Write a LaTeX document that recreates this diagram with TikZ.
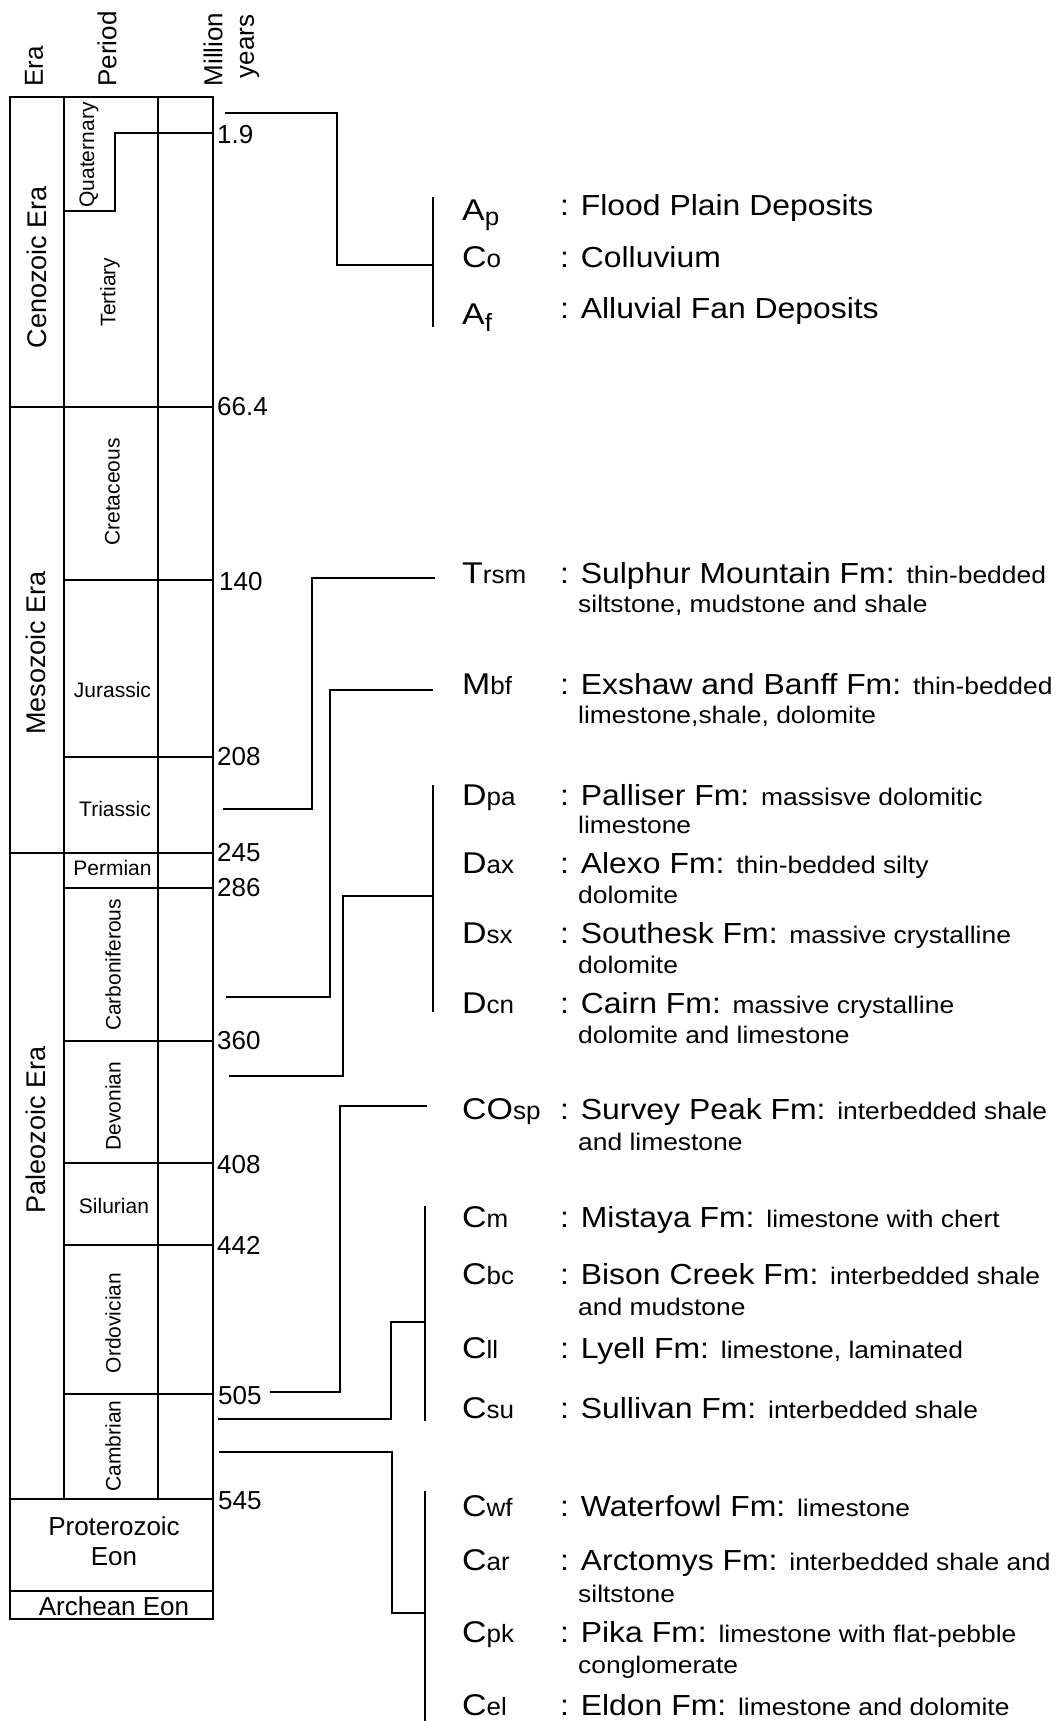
\documentclass[tikz,border=0pt]{standalone}
\usepackage{fontspec}
\setmainfont{Liberation Sans}
\newfontfamily\widef[FakeStretch=1.1]{Liberation Sans}
\newfontfamily\capf[FakeStretch=1.13]{Liberation Sans}
\newfontfamily\lowf[FakeStretch=1.04]{Liberation Sans}
\newcommand\setfs[1]{\fontsize{#1}{#1}\selectfont}
\newcommand\gsym[2]{{\capf\setfs{30}#1}{\lowf\setfs{25}#2}}
\newcommand\gsymlow[3]{{\capf\setfs{30}#1}\raisebox{-#3}{\lowf\setfs{25}#2}}
\newcommand\sm[1]{{\setfs{24}#1}}

\begin{document}
\begin{tikzpicture}[x=1pt,y=-1pt,
  tbl/.style={line width=1.8pt},
  brk/.style={line width=1.4pt},
  rot/.style={rotate=90,inner sep=0pt,font=\setfs{21}},
  eralab/.style={rotate=90,inner sep=0pt,font=\setfs{27}},
  hdr/.style={rotate=90,inner sep=0pt,font=\setfs{26}},
  plab/.style={inner sep=0pt,anchor=base,font=\setfs{21}},
  eonlab/.style={inner sep=0pt,anchor=base,font=\setfs{26}},
  age/.style={inner sep=0pt,anchor=west,font=\setfs{26}},
  symb/.style={inner sep=0pt,anchor=base west},
  desc/.style={inner sep=0pt,anchor=base west,font=\widef\setfs{29}},
  desctwo/.style={inner sep=0pt,anchor=base west,font=\widef\setfs{24}},
]
\useasboundingbox (0,0) rectangle (1055,1721);

% ---------- headers ----------
\node[hdr] (hEra) at (34,66.5) {Era};
\node[hdr] (hPeriod) at (107,49) {Period};
\node[hdr] (hMillion) at (213,49.5) {Million};
\node[hdr] (hYears) at (249.5,46.5) {years};

% ---------- table ----------
\draw[tbl] (10,97) rectangle (213,1499);
\draw[tbl] (64,97) -- (64,1499);
\draw[tbl] (158,97) -- (158,1499);
\draw[tbl] (213,133) -- (115,133) -- (115,211) -- (64,211);
\draw[tbl] (10,407) -- (213,407);
\draw[tbl] (64,580) -- (213,580);
\draw[tbl] (64,757) -- (213,757);
\draw[tbl] (10,853) -- (213,853);
\draw[tbl] (64,888) -- (213,888);
\draw[tbl] (64,1041) -- (213,1041);
\draw[tbl] (64,1163) -- (213,1163);
\draw[tbl] (64,1245) -- (213,1245);
\draw[tbl] (64,1394) -- (213,1394);
\draw[tbl] (10,1499) rectangle (213,1619);
\draw[tbl] (10,1591) -- (213,1591);

% ---------- era / period labels ----------
\node[eralab] (cenozoic) at (37,267) {Cenozoic Era};
\node[eralab] (mesozoic) at (36,653) {Mesozoic Era};
\node[eralab] (paleozoic) at (36,1130) {Paleozoic Era};

\node[rot] (quaternary) at (89,155) {Quaternary};
\node[rot] (tertiary) at (110,292) {Tertiary};
\node[rot] (cretaceous) at (112.5,492) {Cretaceous};
\node[plab] (jurassic) at (112.5,697) {Jurassic};
\node[plab] (triassic) at (115,816) {Triassic};
\node[plab] (permian) at (112.5,875) {Permian};
\node[rot] (carbon) at (113,965) {Carboniferous};
\node[rot] (devonian) at (113,1106) {Devonian};
\node[plab] (silurian) at (114,1213) {Silurian};
\node[rot] (ordovician) at (113,1323) {Ordovician};
\node[rot] (cambrian) at (113,1446) {Cambrian};

\node[eonlab] (prot1) at (114,1535) {Proterozoic};
\node[eonlab] (prot2) at (114,1565) {Eon};
\node[eonlab] (archean) at (114,1615) {Archean Eon};

% ---------- ages ----------
\node[age] (a19) at (217,135) {1.9};
\node[age] (a664) at (217,407) {66.4};
\node[age] (a140) at (219,582) {140};
\node[age] (a208) at (217,757) {208};
\node[age] (a245) at (217,853) {245};
\node[age] (a286) at (217,888) {286};
\node[age] (a360) at (217,1041) {360};
\node[age] (a408) at (217,1165) {408};
\node[age] (a442) at (217,1245) {442};
\node[age] (a505) at (218,1396) {505};
\node[age] (a545) at (218,1501) {545};

% ---------- legend entries ----------
\node[symb] (sAp) at (462,220) {\gsymlow{A}{p}{5pt}};
\node[desc] (dAp) at (560,215) {: Flood Plain Deposits};
\node[symb] (sCo) at (462,267) {\gsym{C}{o}};
\node[desc] (dCo) at (560,267) {: Colluvium};
\node[symb] (sAf) at (462,324) {\gsymlow{A}{f}{7pt}};
\node[desc] (dAf) at (560,318) {: Alluvial Fan Deposits};

\node[symb] (sTrsm) at (462,583) {\gsym{T}{rsm}};
\node[desc] (dTrsm) at (560,583) {: Sulphur Mountain Fm: \sm{thin-bedded}};
\node[desctwo] (dTrsmb) at (578,612) {siltstone, mudstone and shale};

\node[symb] (sMbf) at (462,694) {\gsym{M}{bf}};
\node[desc] (dMbf) at (560,694) {: Exshaw and Banff Fm: \sm{thin-bedded}};
\node[desctwo] (dMbfb) at (578,723) {limestone,shale, dolomite};

\node[symb] (sDpa) at (462,805) {\gsym{D}{pa}};
\node[desc] (dDpa) at (560,805) {: Palliser Fm: \sm{massisve dolomitic}};
\node[desctwo] (dDpab) at (578,833) {limestone};

\node[symb] (sDax) at (462,873) {\gsym{D}{ax}};
\node[desc] (dDax) at (560,873) {: Alexo Fm: \sm{thin-bedded silty}};
\node[desctwo] (dDaxb) at (578,903) {dolomite};

\node[symb] (sDsx) at (462,943) {\gsym{D}{sx}};
\node[desc] (dDsx) at (560,943) {: Southesk Fm: \sm{massive crystalline}};
\node[desctwo] (dDsxb) at (578,973) {dolomite};

\node[symb] (sDcn) at (462,1013) {\gsym{D}{cn}};
\node[desc] (dDcn) at (560,1013) {: Cairn Fm: \sm{massive crystalline}};
\node[desctwo] (dDcnb) at (578,1043) {dolomite and limestone};

\node[symb] (sCOsp) at (462,1119) {\gsym{CO}{sp}};
\node[desc] (dCOsp) at (560,1119) {: Survey Peak Fm: \sm{interbedded shale}};
\node[desctwo] (dCOspb) at (578,1150) {and limestone};

\node[symb] (sCm) at (462,1227) {\gsym{C}{m}};
\node[desc] (dCm) at (560,1227) {: Mistaya Fm: \sm{limestone with chert}};

\node[symb] (sCbc) at (462,1284) {\gsym{C}{bc}};
\node[desc] (dCbc) at (560,1284) {: Bison Creek Fm: \sm{interbedded shale}};
\node[desctwo] (dCbcb) at (578,1315) {and mudstone};

\node[symb] (sCll) at (462,1358) {\gsym{C}{ll}};
\node[desc] (dCll) at (560,1358) {: Lyell Fm: \sm{limestone, laminated}};

\node[symb] (sCsu) at (462,1418) {\gsym{C}{su}};
\node[desc] (dCsu) at (560,1418) {: Sullivan Fm: \sm{interbedded shale}};

\node[symb] (sCwf) at (462,1516) {\gsym{C}{wf}};
\node[desc] (dCwf) at (560,1516) {: Waterfowl Fm: \sm{limestone}};

\node[symb] (sCar) at (462,1570) {\gsym{C}{ar}};
\node[desc] (dCar) at (560,1570) {: Arctomys Fm: \sm{interbedded shale and}};
\node[desctwo] (dCarb) at (578,1602) {siltstone};

\node[symb] (sCpk) at (462,1642) {\gsym{C}{pk}};
\node[desc] (dCpk) at (560,1642) {: Pika Fm: \sm{limestone with flat-pebble}};
\node[desctwo] (dCpkb) at (578,1673) {conglomerate};

\node[symb] (sCel) at (462,1715) {\gsym{C}{el}};
\node[desc] (dCel) at (560,1715) {: Eldon Fm: \sm{limestone and dolomite}};

% ---------- bracket connectors ----------
\coordinate (q0) at (225,113);   \coordinate (q1) at (433,265);
\coordinate (qb0) at (433,197);  \coordinate (qb1) at (433,327);
\draw[brk] (q0) -- (337,113) |- (q1);
\draw[brk] (qb0) -- (qb1);

\coordinate (t0) at (223,809);   \coordinate (t1) at (435,578);
\draw[brk] (t0) -- (312,809) |- (t1);

\coordinate (m0) at (226,997);   \coordinate (m1) at (433,690);
\draw[brk] (m0) -- (330,997) |- (m1);

\coordinate (d0) at (229,1076);  \coordinate (d1) at (433,896);
\coordinate (db0) at (433,785);  \coordinate (db1) at (433,1012);
\draw[brk] (d0) -- (343,1076) |- (d1);
\draw[brk] (db0) -- (db1);

\coordinate (o0) at (270,1392);  \coordinate (o1) at (427,1106);
\draw[brk] (o0) -- (340,1392) |- (o1);

\coordinate (c0) at (218,1419);  \coordinate (c1) at (425,1322);
\coordinate (cb0) at (425,1206); \coordinate (cb1) at (425,1421);
\draw[brk] (c0) -- (391,1419) |- (c1);
\draw[brk] (cb0) -- (cb1);

\coordinate (e0) at (219,1452);  \coordinate (e1) at (425,1613);
\coordinate (eb0) at (425,1491); \coordinate (eb1) at (425,1721);
\draw[brk] (e0) -- (392,1452) |- (e1);
\draw[brk] (eb0) -- (eb1);
\end{tikzpicture}
\end{document}
